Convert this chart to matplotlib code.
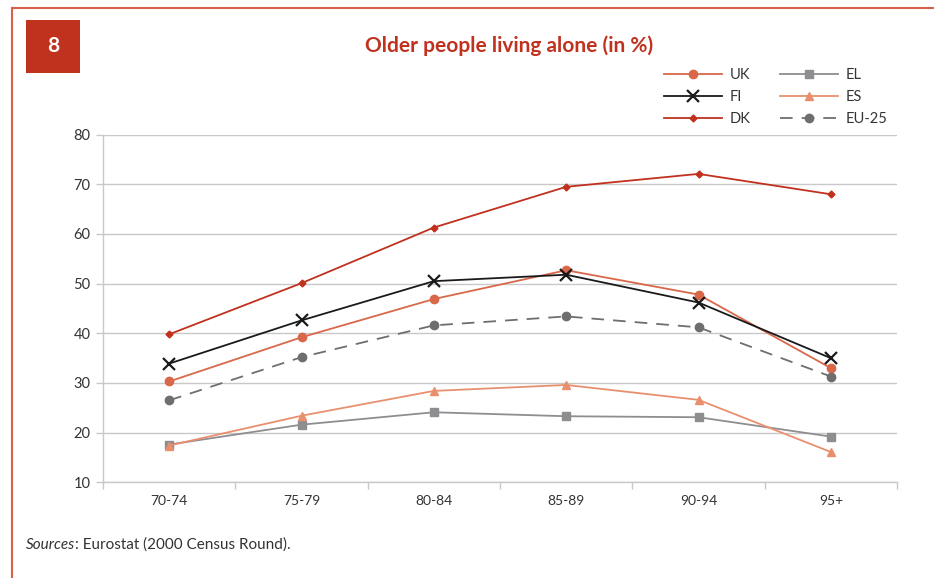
import matplotlib
matplotlib.use("Agg")
import matplotlib.pyplot as plt
from matplotlib.lines import Line2D
from matplotlib.patches import Rectangle

# age groups and share of older people living alone (%)
age_groups = ["70-74", "75-79", "80-84", "85-89", "90-94", "95+"]
uk = [30.3, 39.2, 46.9, 52.7, 47.8, 33.0]
fi = [33.9, 42.6, 50.5, 51.8, 46.2, 35.0]
dk = [39.8, 50.1, 61.3, 69.5, 72.1, 68.0]
el = [17.6, 21.6, 24.1, 23.3, 23.1, 19.2]
es = [17.4, 23.4, 28.4, 29.6, 26.6, 16.1]
eu25 = [26.5, 35.2, 41.6, 43.4, 41.2, 31.3]

RED = "#C0311E"
TEXT = "#333333"
GRID = "#C8C8C8"

plt.rcParams["font.family"] = ["Lato", "DejaVu Sans"]

fig = plt.figure(figsize=(9.34, 5.78), dpi=100)
ax = fig.add_axes([0.1103, 0.1656, 0.8501, 0.6014])

x = range(len(age_groups))
h_uk, = ax.plot(x, uk, color="#D9684A", lw=1.3, marker="o", ms=6, label="UK")
h_fi, = ax.plot(x, fi, color="#1A1A1A", lw=1.3, marker="x", ms=8, mew=1.6, label="FI")
h_dk, = ax.plot(x, dk, color=RED, lw=1.3, marker="D", ms=3.5, label="DK")
h_el, = ax.plot(x, el, color="#8E8E90", lw=1.3, marker="s", ms=6, label="EL")
h_es, = ax.plot(x, es, color="#E8906E", lw=1.3, marker="^", ms=5.5, label="ES")
h_eu, = ax.plot(x, eu25, color="#6E6E6E", lw=1.3, marker="o", ms=6,
                dashes=(7, 5), label="EU-25")

ax.set_xlim(-0.5, len(age_groups) - 0.5)
ax.set_ylim(10, 80)
ax.set_yticks(range(10, 81, 10))
ax.set_xticks(list(x))
ax.set_xticklabels(age_groups)
ax.set_xticks([i - 0.5 for i in range(len(age_groups) + 1)], minor=True)
ax.tick_params(axis="x", which="major", length=0, pad=9, labelsize=10, labelcolor=TEXT)
ax.tick_params(axis="x", which="minor", length=5, color=GRID, width=1)
ax.tick_params(axis="y", length=5, color=GRID, width=1, labelsize=10.5,
               labelcolor=TEXT, pad=4)
ax.grid(axis="y", color=GRID, lw=1)
ax.set_axisbelow(True)
for side in ("top", "right"):
    ax.spines[side].set_visible(False)
for side in ("left", "bottom"):
    ax.spines[side].set_color(GRID)
    ax.spines[side].set_linewidth(1)

fig.legend(handles=[h_uk, h_fi, h_dk, h_el, h_es, h_eu], ncol=2,
           loc="upper left", bbox_to_anchor=(0.697, 0.905), frameon=False,
           fontsize=10.5, handlelength=4.0, handletextpad=0.5,
           columnspacing=2.0, labelspacing=0.54, labelcolor=TEXT)

# page frame and chart number box
fig.add_artist(Line2D([12 / 934, 12 / 934], [0, 1 - 7.5 / 578],
                      transform=fig.transFigure, color="#D9604A", lw=1.5))
fig.add_artist(Line2D([12 / 934, 1], [1 - 7.5 / 578, 1 - 7.5 / 578],
                      transform=fig.transFigure, color="#D9604A", lw=1.5))
fig.add_artist(Rectangle((26 / 934, 1 - 73 / 578), 54 / 934, 53 / 578,
                         transform=fig.transFigure, color=RED, lw=0))
fig.text(53 / 934, 1 - 46.5 / 578, "8", color="white", fontsize=15,
         fontweight="bold", ha="center", va="center")

fig.text(509 / 934, 1 - 46 / 578, "Older people living alone (in %)", color=RED,
         fontsize=15, fontweight="bold", ha="center", va="center")

# source line: italic "Sources" followed by the plain remainder
src = fig.text(26 / 934, 1 - 545 / 578, "Sources", style="italic", color=TEXT,
               fontsize=11, va="center")
ax.annotate(": Eurostat (2000 Census Round).", xy=(1, 0.5), xycoords=src,
            va="center", ha="left", color=TEXT, fontsize=11)

fig.savefig("out.png", dpi=100)
